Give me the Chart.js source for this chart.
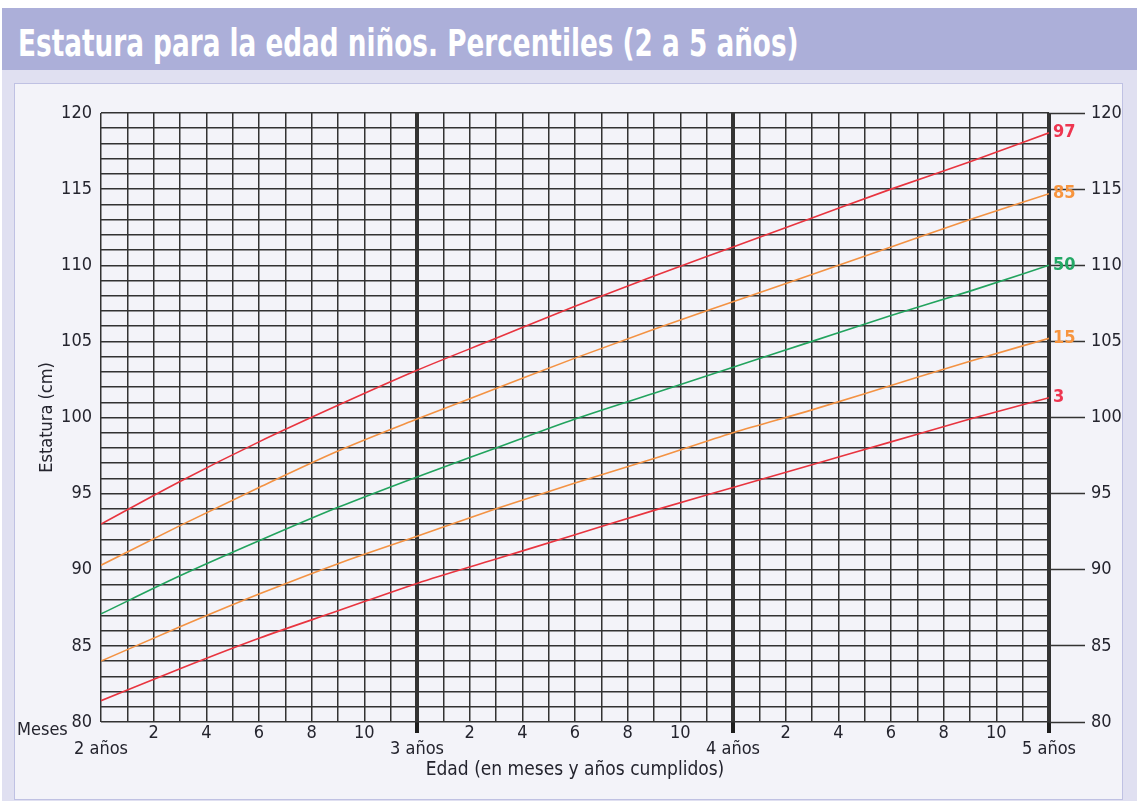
<!DOCTYPE html>
<html>
<head>
<meta charset="utf-8">
<script src="https://cdn.jsdelivr.net/npm/chart.js@4.4.0/dist/chart.umd.min.js"></script>
<style>
  body { margin:0; background:#fff; width:1137px; height:801px; overflow:hidden; position:relative; }
  #frame { position:absolute; left:2px; top:8px; width:1135px; height:793px; background:#e0e0f1; }
  #head { position:absolute; left:2px; top:8px; width:1135px; height:62px; background:#acafd9; overflow:hidden; }
  #head span { position:absolute; left:16px; top:14px; color:#fff; line-height:40px; white-space:nowrap;
          font:bold 37px 'Liberation Sans Narrow','DejaVu Sans Condensed',sans-serif;
          transform:scaleX(0.79); transform-origin:left center; }
  #panel { position:absolute; left:14px; top:83px; width:1107px; height:715px; background:#f3f3f9; border:1px solid #bfc1e3; }
  #myChart { position:absolute; left:0; top:0; }
</style>
</head>
<body>
<div id="frame"></div>
<div id="head"><span>Estatura para la edad niños. Percentiles (2 a 5 años)</span></div>
<div id="panel"></div>
<canvas id="myChart" width="1137" height="801"></canvas>
<script>
// edad en meses (24 = 2 años ... 60 = 5 años)
const meses = [24,27,30,33,36,39,42,45,48,51,54,57,60];

// estatura (cm) por percentil
const p97 = [93.0,95.8,98.4,100.8,103.1,105.2,107.3,109.3,111.2,113.1,115.0,116.8,118.7];
const p85 = [90.3,92.9,95.4,97.8,99.9,101.9,103.9,105.8,107.6,109.4,111.2,113.0,114.7];
const p50 = [87.1,89.6,91.9,94.1,96.1,98.0,99.9,101.6,103.3,105.0,106.7,108.3,110.0];
const p15 = [84.0,86.25,88.4,90.4,92.2,94.0,95.7,97.3,99.0,100.5,102.1,103.7,105.2];
const p3  = [81.4,83.5,85.5,87.3,89.1,90.7,92.3,93.9,95.4,96.9,98.4,99.9,101.3];

const percentiles = ['97','85','50','15','3'];
const series = [p97, p85, p50, p15, p3];
const colores = ['#e8343f','#f39243','#22a35e','#f39243','#e8343f'];
const coloresEtiqueta = ['#ee3550','#f7953f','#24a866','#f7953f','#ee3550'];

const FONT = "'Liberation Sans Narrow','DejaVu Sans Condensed',sans-serif";
const TXT = '#24242e';
const GRID = '#333333';

function esAnio(v) { return v % 12 === 0 && v !== 24; }

// etiquetas de percentil al final de cada curva y texto "Meses"
const extras = {
  id: 'extras',
  afterDatasetsDraw(chart) {
    const ctx = chart.ctx;
    ctx.save();
    ctx.textBaseline = 'middle';
    ctx.textAlign = 'left';
    ctx.font = 'bold 18px ' + FONT;
    chart.data.datasets.forEach((ds, i) => {
      const pts = chart.getDatasetMeta(i).data;
      const last = pts[pts.length - 1];
      ctx.fillStyle = coloresEtiqueta[i];
      ctx.fillText(ds.label, last.x + 4, last.y);
    });
    ctx.font = '18px ' + FONT;
    ctx.fillStyle = TXT;
    ctx.fillText('Meses', chart.chartArea.left - 84, chart.chartArea.bottom + 8);
    ctx.restore();
  }
};

const data = {
  datasets: series.map((s, i) => ({
    label: percentiles[i],
    data: meses.map((m, j) => ({x: m, y: s[j]})),
    borderColor: colores[i],
    borderWidth: 1.6,
    pointRadius: 0,
    cubicInterpolationMode: 'monotone'
  }))
};

const config = {
  type: 'line',
  data: data,
  options: {
    responsive: false,
    animation: false,
    layout: { padding: { top: 113, left: 0, right: 0, bottom: 0 } },
    plugins: { legend: { display: false }, tooltip: { enabled: false } },
    scales: {
      x: {
        type: 'linear', min: 24, max: 60,
        afterFit: (s) => { s.height = 79; },
        border: { display: false },
        grid: {
          color: GRID,
          lineWidth: (c) => esAnio(c.tick.value) ? 4 : 1.5,
          tickLength: 11,
          tickColor: (c) => esAnio(c.tick.value) ? '#1e1e1e' : 'rgba(0,0,0,0)',
          tickWidth: (c) => esAnio(c.tick.value) ? 4 : 0
        },
        ticks: {
          stepSize: 1, autoSkip: false, maxRotation: 0, padding: -8,
          color: TXT, font: { family: FONT, size: 18, lineHeight: 0.9 },
          callback: (v) => {
            const m = v % 12;
            if (m === 0) return ['', (v / 12) + ' años'];
            if (m % 2 === 0) return [String(m), ''];
            return '';
          }
        },
        title: {
          display: true, text: 'Edad (en meses y años cumplidos)', color: TXT,
          font: { family: FONT, size: 19 }, padding: { top: 0, bottom: 20 }
        }
      },
      y: {
        position: 'left', min: 80, max: 120,
        afterFit: (s) => { s.width = 101; },
        border: { display: false },
        grid: { color: GRID, lineWidth: 1.5, drawTicks: false },
        ticks: {
          stepSize: 1, autoSkip: false, padding: 9, color: TXT,
          font: { family: FONT, size: 18 },
          callback: (v) => v % 5 === 0 ? String(v) : ''
        },
        title: {
          display: true, text: 'Estatura (cm)', color: TXT,
          font: { family: FONT, size: 18 }, padding: { top: 37, bottom: 0 }
        }
      },
      y2: {
        position: 'right', min: 80, max: 120,
        afterFit: (s) => { s.width = 88; },
        border: { display: false },
        grid: {
          drawOnChartArea: false, tickLength: 36, color: GRID,
          tickColor: (c) => c.tick.value % 5 === 0 ? GRID : 'rgba(0,0,0,0)',
          tickWidth: 1.5
        },
        ticks: {
          stepSize: 1, autoSkip: false, padding: 6, color: TXT,
          font: { family: FONT, size: 18 },
          callback: (v) => v % 5 === 0 ? String(v) : ''
        }
      }
    }
  },
  plugins: [extras]
};

let myChart = new Chart(document.getElementById('myChart'), config);
</script>
</body>
</html>
